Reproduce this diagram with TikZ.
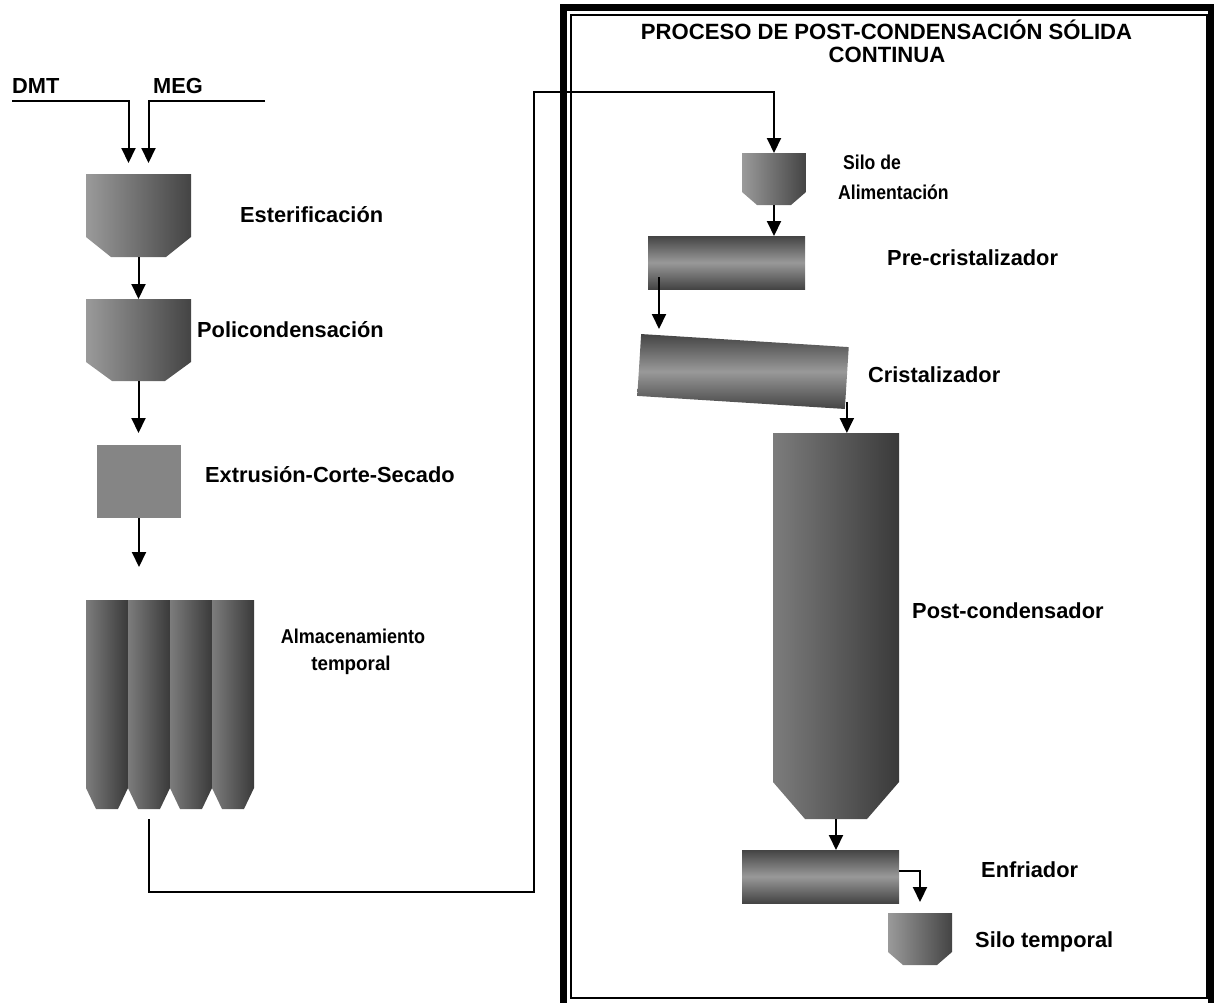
\documentclass[tikz,border=0pt]{standalone}
\usepackage{fontspec}
\setmainfont{Liberation Sans}
\usetikzlibrary{arrows.meta,calc}
\definecolor{vl}{HTML}{9A9A9A}
\definecolor{vd}{HTML}{444444}
\definecolor{sl}{HTML}{7C7C7C}
\definecolor{sd}{HTML}{3A3A3A}
\definecolor{cd}{HTML}{444444}
\definecolor{cm}{HTML}{999999}
\definecolor{exg}{HTML}{858585}
\tikzset{
 box/.style={inner sep=0pt, outer sep=0pt, draw=none},
 lbl/.style={anchor=base west, inner sep=0pt, font=\fontsize{21.8}{25}\selectfont\bfseries},
 lbm/.style={anchor=base west, inner sep=0pt, font=\fontsize{20}{24}\selectfont\bfseries},
 ttl/.style={anchor=base, inner sep=0pt, font=\fontsize{22.1}{25}\selectfont\bfseries},
 tlm/.style={anchor=base, inner sep=0pt, font=\fontsize{20}{24}\selectfont\bfseries},
 arr/.style={line width=2pt, -{Triangle[width=14pt,length=15pt]}},
 vsh/.style={left color=vl, right color=vd},
 ssh/.style={left color=sl, right color=sd},
 cyl/.style={top color=cd, bottom color=cd, middle color=cm},
}
% #1 name, #2 x1, #3 y1, #4 x2, #5 y2, #6 rise, #7 inset, #8 shading style
\newcommand\vsl[8]{%
 \shade[#8] (#2,#3) -- (#4,#3) -- (#4,#5-#6) -- (#4-#7,#5) -- (#2+#7,#5) -- (#2,#5-#6) -- cycle;
 \node[box, minimum width={#4-#2}, minimum height={#5-#3}] (#1) at ({(#2+#4)/2},{(#3+#5)/2}) {};
}
\begin{document}
\begin{tikzpicture}[x=1pt,y=-1pt]
\useasboundingbox (0,0) rectangle (1214,1002);
% frame
\draw[line width=6.5pt] (563.5,7.5) rectangle (1211.5,1012);
\draw[line width=2pt] (570.5,15) rectangle (1206.5,998);
% left column
\node[lbl] (dmt) at (12,93) {DMT};
\node[lbl] (meg) at (153,93) {MEG};
\vsl{est}{86}{174}{191}{257}{20}{25}{vsh}
\vsl{pol}{86}{299}{191}{381}{19}{26}{vsh}
\node[box, fill=exg, minimum width=84, minimum height=73] (ext) at (139,481.5) {};
\vsl{alma}{86}{600}{128}{809}{21}{10}{ssh}
\vsl{almb}{128}{600}{170}{809}{21}{10}{ssh}
\vsl{almc}{170}{600}{212}{809}{21}{10}{ssh}
\vsl{almd}{212}{600}{254}{809}{21}{10}{ssh}
\node[lbl] (l-est) at (240,222.5) {Esterificación};
\node[lbl] (l-pol) at (197,337.5) {Policondensación};
\node[lbl] (l-ext) at (205,482.5) {Extrusión-Corte-Secado};
\node[tlm] (l-alm1) at (353,643) {\scalebox{0.9}[1]{Almacenamiento}};
\node[tlm] (l-alm2) at (351,670) {\scalebox{0.94}[1]{temporal}};
% right column
\node[ttl] (t1) at (886.5,39.5) {PROCESO DE POST-CONDENSACIÓN SÓLIDA};
\node[ttl] (t2) at (887,62.5) {CONTINUA};
\vsl{sil}{742}{153}{806}{205}{13}{15}{vsh}
\node[box, cyl, minimum width=157, minimum height=53] (pre) at (726.5,262.5) {};
\node[box, cyl, rotate=-3.6, minimum width=208, minimum height=62] (cri) at (743,371.5) {};
\vsl{post}{773}{433}{899}{819}{37}{32}{ssh}
\node[box, cyl, minimum width=157, minimum height=53] (enf) at (820.5,876.5) {};
\vsl{stm}{888}{913}{952}{965}{13}{15}{vsh}
\node[lbm] (l-sil1) at (843,169) {\scalebox{0.88}[1]{Silo de}};
\node[lbm] (l-sil2) at (838,199) {\scalebox{0.88}[1]{Alimentación}};
\node[lbl] (l-pre) at (887,265.5) {Pre-cristalizador};
\node[lbl] (l-cri) at (868,382.5) {Cristalizador};
\node[lbl] (l-post) at (912,618.5) {Post-condensador};
\node[lbl] (l-enf) at (981,877.5) {Enfriador};
\node[lbl] (l-stm) at (975,947.5) {Silo temporal};
% connectors
\path ($(pre.south west)+(11,-12)$) coordinate (preo);
\path ($(cri.south east)+(2,-7)$) coordinate (crio);
\draw[arr] ([yshift=-7.5pt]dmt.base west) -| ([xshift=-10pt,yshift=11pt]est.north);
\draw[arr] ([xshift=112pt,yshift=-7.5pt]meg.base west) -| ([xshift=10pt,yshift=11pt]est.north);
\draw[arr] (est.south) -- (est.south |- pol.north);
\draw[arr, shorten >=12pt] (pol.south) -- (pol.south |- ext.north);
\draw[arr, shorten >=33pt] (ext.south) -- (ext.south |- alma.north);
\draw[arr] ([yshift=-10pt]almb.south) -- (149,892) -- (534,892) -- (534,92) -| (sil.north);
\draw[arr] (sil.south) -- (sil.south |- pre.north);
\draw[arr] (preo) -- ++(0,52);
\draw[arr] (crio) -- (crio |- post.north);
\draw[arr] (post.south) -- (post.south |- enf.north);
\draw[arr] ([yshift=5.5pt]enf.east) -| ([yshift=11pt]stm.north);
\end{tikzpicture}
\end{document}
